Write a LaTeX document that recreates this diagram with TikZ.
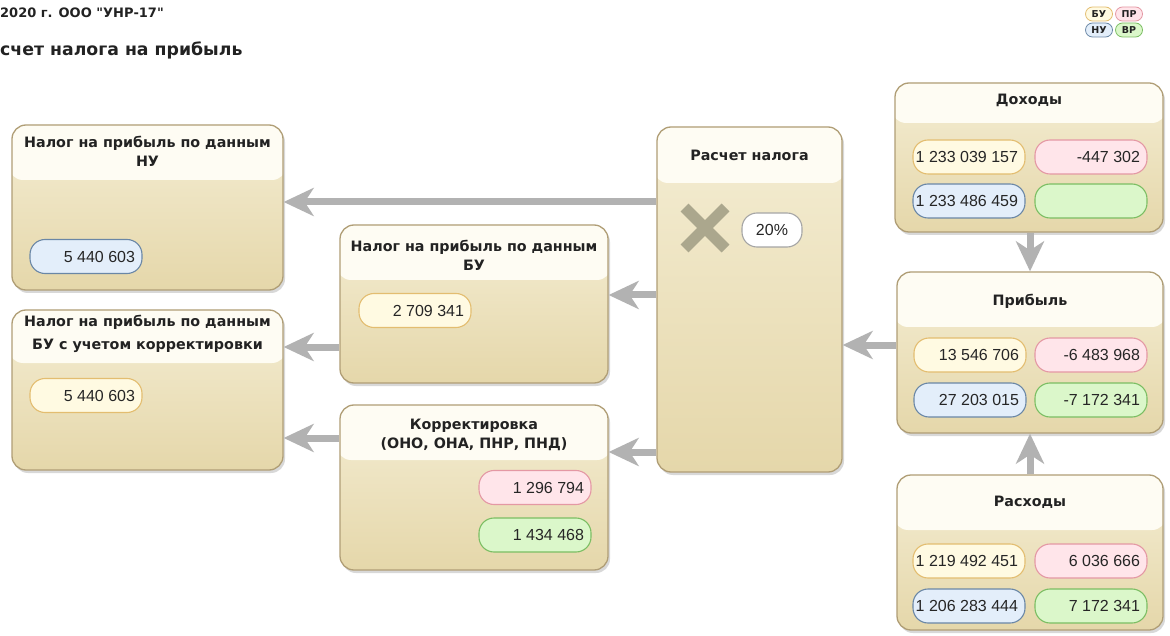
\documentclass[tikz,border=0pt]{standalone}
\usepackage{fontspec}
\setmainfont{DejaVu Sans}
\newfontfamily\plainfont{DejaVu Sans}
\newfontfamily\numfont{Liberation Sans}
\usetikzlibrary{arrows.meta,shadows,shapes.misc}
\definecolor{panelborder}{HTML}{B09E76}
\definecolor{bodytop}{HTML}{F4EDD3}
\definecolor{bodybot}{HTML}{E5D7AA}
\definecolor{hdrfill}{HTML}{FEFCF3}
\definecolor{conncol}{HTML}{B2B2B2}
\definecolor{titlecol}{HTML}{222222}
\definecolor{yfill}{HTML}{FFFAE2}
\definecolor{ydraw}{HTML}{E3BD70}
\definecolor{pfill}{HTML}{FFE5EA}
\definecolor{pdraw}{HTML}{E498A4}
\definecolor{bfill}{HTML}{E3EEFA}
\definecolor{bdraw}{HTML}{6A87A6}
\definecolor{gfill}{HTML}{DBF7CA}
\definecolor{gdraw}{HTML}{7BBE63}
\definecolor{wdraw}{HTML}{A5A5A5}
\definecolor{xcol}{HTML}{ABA78D}
\newcommand{\pv}[1]{\makebox[98pt][r]{#1}}
\tikzset{
  panel/.style={draw=panelborder, line width=1.3pt, rounded corners=14pt,
    top color=bodytop, bottom color=bodybot, inner sep=0pt,
    drop shadow={opacity=0.3, shadow xshift=2pt, shadow yshift=-3pt}},
  hdr/.style={path picture={\fill[hdrfill] ([xshift=-3pt,yshift=3pt]path picture bounding box.north west) rectangle ([xshift=3pt,yshift=-#1]path picture bounding box.north east);}},
  ttl/.style={font=\bfseries\fontsize{14.3}{19}\selectfont, text=titlecol, align=center, inner sep=0pt},
  pill/.style={rectangle, rounded corners=15pt, line width=1.1pt, minimum height=34pt,
    minimum width=112pt, inner xsep=7pt, inner ysep=0pt,
    font=\numfont\fontsize{16}{18}\selectfont, text=black!85},
  py/.style={pill, fill=yfill, draw=ydraw},
  pp/.style={pill, fill=pfill, draw=pdraw},
  pb/.style={pill, fill=bfill, draw=bdraw},
  pg/.style={pill, fill=gfill, draw=gdraw},
  pw/.style={pill, fill=white, draw=wdraw, minimum width=60pt},
  conn/.style={draw=conncol, line width=7pt, -{Stealth[length=30pt,width=28pt,inset=9pt]}},
  lg/.style={rectangle, rounded corners=7pt, line width=0.8pt, minimum width=27pt, minimum height=14pt,
    inner sep=0pt, font=\bfseries\fontsize{9.5}{10}\selectfont, text=titlecol},
}
\begin{document}
\begin{tikzpicture}[x=1pt,y=-1pt]
\useasboundingbox[fill=white] (0,0) rectangle (1170,636);

% header texts
\node[anchor=west, inner sep=0pt, font=\plainfont\bfseries\fontsize{13}{15}\selectfont, text=titlecol] (head1) at (0,13) {2020 г. ООО "УНР-17"};
\node[anchor=west, inner sep=0pt, font=\bfseries\fontsize{17.3}{20}\selectfont, text=titlecol] (head2) at (0,50) {счет налога на прибыль};

% legend
\node[lg, fill=yfill, draw=ydraw] (lbu) at (1099,14) {БУ};
\node[lg, fill=pfill, draw=pdraw] (lpr) at (1129,14) {ПР};
\node[lg, fill=bfill, draw=bdraw] (lnu) at (1099,30) {НУ};
\node[lg, fill=gfill, draw=gdraw] (lvr) at (1129,30) {ВР};

% panels
\node[panel, hdr=55pt, minimum width=271pt, minimum height=165pt] (nu) at (147.5,207.5) {};
\node[panel, hdr=53pt, minimum width=271pt, minimum height=160pt] (bucorr) at (147.5,390) {};
\node[panel, hdr=55pt, minimum width=268pt, minimum height=158pt] (bu) at (474,304) {};
\node[panel, hdr=55pt, minimum width=268pt, minimum height=165pt] (korr) at (474,487.5) {};
\node[panel, hdr=56pt, minimum width=185pt, minimum height=345pt] (calc) at (749.5,299.5) {};
\node[panel, hdr=40pt, minimum width=268pt, minimum height=149pt] (doh) at (1029,157.5) {};
\node[panel, hdr=55pt, minimum width=266pt, minimum height=161pt] (prib) at (1030,352.5) {};
\node[panel, hdr=55pt, minimum width=266pt, minimum height=155pt] (rash) at (1030,552.5) {};

% titles
\node[ttl] (tnu) at (147.5,151) {Налог на прибыль по данным\\НУ};
\node[ttl] (tbucorr) at (147.5,334) {Налог на прибыль по данным\\[4pt]БУ с учетом корректировки};
\node[ttl] (tbu) at (474,255) {Налог на прибыль по данным\\БУ};
\node[ttl] (tkorr) at (474,435) {Корректировка\\(ОНО, ОНА, ПНР, ПНД)};
\node[ttl] (tcalc) at (749.5,155) {Расчет налога};
\node[ttl] (tdoh) at (1029,100) {Доходы};
\node[ttl] (tprib) at (1030,301) {Прибыль};
\node[ttl] (trash) at (1030,502) {Расходы};

% values
\node[pb] (vnu) at (86,256.5) {\pv{5 440 603}};
\node[py] (vbucorr) at (86,395.5) {\pv{5 440 603}};
\node[py] (vbu) at (415,310.5) {\pv{2 709 341}};
\node[pp] (vkorr1) at (535,487.5) {\pv{1 296 794}};
\node[pg] (vkorr2) at (535,535) {\pv{1 434 468}};
\node[pw] (rate) at (772,230) {20\%};
\node[cross out, draw=xcol, line width=11pt, minimum size=30pt, inner sep=0pt] (mul) at (705,228) {};

\node[py] (d1) at (969,157) {\pv{1 233 039 157}};
\node[pp] (d2) at (1091,157) {\pv{-447 302}};
\node[pb] (d3) at (969,201) {\pv{1 233 486 459}};
\node[pg] (d4) at (1091,201) {\pv{}};

\node[py] (p1) at (970,355) {\pv{13 546 706}};
\node[pp] (p2) at (1091,355) {\pv{-6 483 968}};
\node[pb] (p3) at (970,400) {\pv{27 203 015}};
\node[pg] (p4) at (1091,400) {\pv{-7 172 341}};

\node[py] (r1) at (969,561) {\pv{1 219 492 451}};
\node[pp] (r2) at (1091,561) {\pv{6 036 666}};
\node[pb] (r3) at (969,606) {\pv{1 206 283 444}};
\node[pg] (r4) at (1091,606) {\pv{7 172 341}};

% connector levels
\coordinate (ya) at (0,202);
\coordinate (yb) at (0,295);
\coordinate (yc) at (0,452);
\coordinate (yd) at (0,347);
\coordinate (ye) at (0,438);
\coordinate (yf) at (0,345);
\coordinate (xv) at (1030,0);

% connectors
\draw[conn] (calc.west |- ya) -- (nu.east |- ya);
\draw[conn] (calc.west |- yb) -- (bu.east |- yb);
\draw[conn] (calc.west |- yc) -- (korr.east |- yc);
\draw[conn] (bu.west |- yd) -- (bucorr.east |- yd);
\draw[conn] (korr.west |- ye) -- (bucorr.east |- ye);
\draw[conn] (prib.west |- yf) -- (calc.east |- yf);
\draw[conn] (doh.south -| xv) -- (prib.north -| xv);
\draw[conn] (rash.north -| xv) -- (prib.south -| xv);
\end{tikzpicture}
\end{document}
